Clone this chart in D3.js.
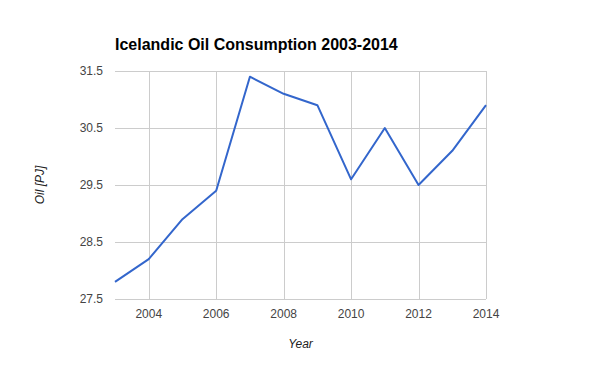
<!DOCTYPE html>
<html>
<head>
<meta charset="utf-8">
<script src="https://cdn.jsdelivr.net/npm/d3@7"></script>
<style>
  body { margin: 0; background: #fff; }
  text { font-family: "Liberation Sans", Arial, sans-serif; }
  .grid line { stroke: #cccccc; stroke-width: 1; }
  .tick-label { font-size: 12px; fill: #444; }
</style>
</head>
<body>
<svg width="600" height="371"></svg>
<script>
var years = [2003, 2004, 2005, 2006, 2007, 2008, 2009, 2010, 2011, 2012, 2013, 2014],
    oil = [27.8, 28.2, 28.9, 29.4, 31.4, 31.1, 30.9, 29.6, 30.5, 29.5, 30.1, 30.9],
    xTicks = [2004, 2006, 2008, 2010, 2012, 2014],
    yTicks = [27.5, 28.5, 29.5, 30.5, 31.5];

var svg = d3.select("svg"),
    margin = {top: 71, right: 114, bottom: 72, left: 115},
    width = +svg.attr("width") - margin.left - margin.right,
    height = +svg.attr("height") - margin.top - margin.bottom,
    g = svg.append("g").attr("transform", "translate(" + margin.left + "," + margin.top + ")");

var x = d3.scaleLinear()
    .domain([2003, 2014])
    .range([0, width]);

var y = d3.scaleLinear()
    .domain([27.5, 31.5])
    .range([height, 0]);

var line = d3.line()
    .x(function(d, i) { return x(years[i]); })
    .y(function(d) { return y(d); });

// gridlines
var grid = g.append("g").attr("class", "grid");

grid.selectAll(".hline")
    .data(yTicks)
  .enter().append("line")
    .attr("class", "hline")
    .attr("x1", 0)
    .attr("x2", width)
    .attr("y1", function(d) { return Math.round(y(d)) + 0.5; })
    .attr("y2", function(d) { return Math.round(y(d)) + 0.5; });

grid.selectAll(".vline")
    .data(xTicks)
  .enter().append("line")
    .attr("class", "vline")
    .attr("x1", function(d) { return Math.round(x(d)) + 0.5; })
    .attr("x2", function(d) { return Math.round(x(d)) + 0.5; })
    .attr("y1", 0)
    .attr("y2", height);

// tick labels
g.selectAll(".ylab")
    .data(yTicks)
  .enter().append("text")
    .attr("class", "tick-label")
    .attr("x", -12)
    .attr("y", function(d) { return y(d); })
    .attr("dy", "0.35em")
    .attr("text-anchor", "end")
    .text(function(d) { return d3.format(".1f")(d); });

g.selectAll(".xlab")
    .data(xTicks)
  .enter().append("text")
    .attr("class", "tick-label")
    .attr("x", function(d) { return x(d); })
    .attr("y", height + 19)
    .attr("text-anchor", "middle")
    .text(function(d) { return d; });

// the series
g.append("path")
    .datum(oil)
    .attr("fill", "none")
    .attr("stroke", "#3366cc")
    .attr("stroke-width", 2)
    .attr("stroke-linejoin", "round")
    .attr("d", line);

// title and axis titles
svg.append("text")
    .attr("x", 115)
    .attr("y", 50)
    .attr("font-size", "16px")
    .attr("font-weight", "bold")
    .attr("fill", "#000")
    .text("Icelandic Oil Consumption 2003-2014");

svg.append("text")
    .attr("x", margin.left + width / 2)
    .attr("y", 348)
    .attr("text-anchor", "middle")
    .attr("font-size", "12px")
    .attr("font-style", "italic")
    .attr("fill", "#222")
    .text("Year");

svg.append("text")
    .attr("transform", "translate(44," + (margin.top + height / 2) + ") rotate(-90)")
    .attr("text-anchor", "middle")
    .attr("font-size", "12px")
    .attr("font-style", "italic")
    .attr("fill", "#222")
    .text("Oil [PJ]");
</script>
</body>
</html>
